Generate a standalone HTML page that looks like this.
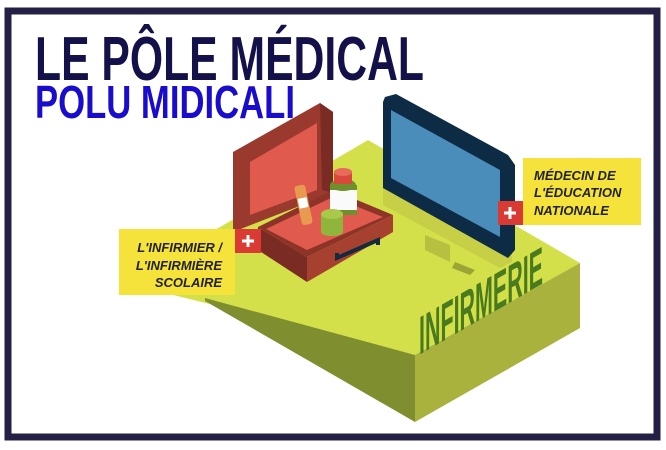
<!DOCTYPE html>
<html><head><meta charset="utf-8"><style>
html,body{margin:0;padding:0;background:#fff;}
svg{display:block;}
</style></head><body>
<svg width="666" height="450" viewBox="0 0 666 450" xmlns="http://www.w3.org/2000/svg">
<rect x="0" y="0" width="666" height="450" fill="#fff"/>
<rect x="8" y="11" width="649" height="426" fill="none" stroke="#231f45" stroke-width="7"/>
<text x="35" y="80" font-family="Liberation Sans, sans-serif" font-weight="bold" font-size="62" fill="#14104a" textLength="389" lengthAdjust="spacingAndGlyphs">LE PÔLE MÉDICAL</text>
<text x="35" y="118" font-family="Liberation Sans, sans-serif" font-weight="bold" font-size="46" fill="#1a0ccc" textLength="260" lengthAdjust="spacingAndGlyphs">POLU MIDICALI</text>

<!-- platform -->
<polygon points="368,140 580,263 415,355 125,283" fill="#d4e04a"/>
<polygon points="205,298 415,355 415,422 205,301" fill="#7f8f30"/>
<polygon points="415,355 580,263 580,328 415,422" fill="#a9b23c"/>
<text transform="translate(419,355) skewY(-30)" font-family="Liberation Sans, sans-serif" font-weight="bold" font-size="54" fill="#4a7a1e" textLength="124" lengthAdjust="spacingAndGlyphs">INFIRMERIE</text>

<!-- monitor shadow & stand -->
<polygon points="383,170 512,235 512,262 500,268 383,205" fill="#c6cf45"/>
<polygon points="425,235 450,245 450,262 425,250" fill="#b8c040"/>
<polygon points="455,262 475,270 470,275 452,268" fill="#9aa535"/>
<!-- monitor -->
<polygon points="385,97 396,94 508,155 515,165 515,250 508,258 383,188 383,102" fill="#0d2b45"/>
<polygon points="391,110 500,170 500,237 391,178" fill="#4a8dbb"/>

<!-- suitcase lid -->
<polygon points="233,152 320,103 333,112 333,193 233,232" fill="#9a3a2e"/>
<polygon points="320,103 333,112 333,193 322,190" fill="#7a2c24"/>
<polygon points="250,162 317,123 317,190 250,215" fill="#e05a4e"/>
<!-- suitcase base -->
<polygon points="258,227 333,190 393,215 307,257" fill="#8e3328"/>
<polygon points="266,229 333,197 383,217 307,250" fill="#e05a4e"/>
<polygon points="307,257 393,215 393,232 307,282" fill="#a6402f"/>
<polygon points="258,227 307,257 307,282 258,250" fill="#7a2c24"/>
<polyline points="337,253 337,258 378,240 378,245" fill="none" stroke="#142a3e" stroke-width="4"/>
<!-- bottles -->
<rect x="298" y="185" width="11" height="40" rx="3" fill="#e89a50" transform="rotate(-12 303 205)"/>
<rect x="299" y="198" width="9" height="10" fill="#fff" transform="rotate(-12 303 205)"/>
<rect x="330" y="185" width="27" height="30" fill="#6f8f2c"/>
<rect x="330" y="190" width="27" height="20" fill="#fafafa"/>
<ellipse cx="343" cy="185" rx="13" ry="6" fill="#6f8f2c"/>
<rect x="334" y="172" width="18" height="12" fill="#d9483c"/>
<ellipse cx="343" cy="172" rx="9" ry="4" fill="#e86a5a"/>
<rect x="321" y="214" width="22" height="18" fill="#8fb63a"/>
<ellipse cx="332" cy="232" rx="11" ry="4" fill="#8fb63a"/>
<ellipse cx="332" cy="214" rx="11" ry="5" fill="#a9c94a"/>

<!-- left label -->
<rect x="119" y="229" width="116" height="66" fill="#f5e23a"/>
<rect x="235" y="229" width="26" height="24" fill="#d93a33"/>
<path d="M248 235v12M242 241h12" stroke="#fff" stroke-width="3"/>
<g font-family="Liberation Sans, sans-serif" font-style="italic" font-weight="bold" font-size="13" fill="#222" text-anchor="end">
<text x="222" y="252">L'INFIRMIER /</text>
<text x="222" y="270">L'INFIRMIÈRE</text>
<text x="222" y="287">SCOLAIRE</text>
</g>
<!-- right label -->
<rect x="523" y="158" width="118" height="67" fill="#f5e23a"/>
<rect x="498" y="201" width="25" height="24" fill="#d93a33"/>
<path d="M510 207v12M504 213h12" stroke="#fff" stroke-width="3"/>
<g font-family="Liberation Sans, sans-serif" font-style="italic" font-weight="bold" font-size="13" fill="#222">
<text x="534" y="180">MÉDECIN DE</text>
<text x="534" y="197">L'ÉDUCATION</text>
<text x="534" y="215">NATIONALE</text>
</g>
</svg>
</body></html>
